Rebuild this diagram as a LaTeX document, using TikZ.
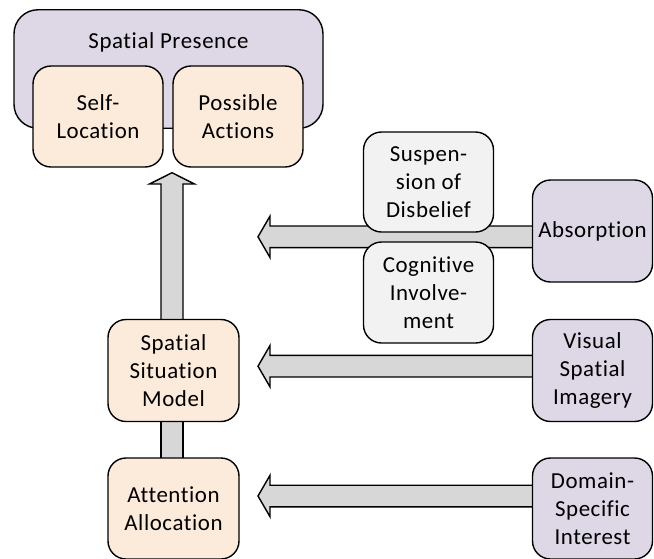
\documentclass[tikz,border=0pt]{standalone}
\usepackage{fontspec}
\setmainfont{Carlito}[Ligatures=NoCommon, LetterSpace=2.5]
\usetikzlibrary{calc}

\definecolor{lavender}{RGB}{221,215,230}
\definecolor{peach}{RGB}{252,234,219}
\definecolor{paleGray}{RGB}{242,242,242}
\definecolor{shaftGray}{RGB}{215,215,215}

% broad left-pointing arrow: #1 = tip, #2 = point where the shaft starts
\newcommand{\fatleft}[2]{%
  \draw[fatarrow] (#1) -- ++(12,-20.7) -- ++(0,9.9)
    -- ($(#2)+(0,-10.8)$) -- ($(#2)+(0,10.8)$)
    -- ($(#1)+(12,10.8)$) -- ++(0,9.9) -- cycle;}

\begin{document}
\begin{tikzpicture}[x=1pt,y=-1pt,
  every node/.style={font=\fontsize{22.9}{27.9}\selectfont, align=center, inner sep=0pt},
  box/.style={draw=black, line width=1.4pt, rounded corners=18pt,
    minimum width=130pt, minimum height=101pt},
  outer/.style={box, fill=lavender},
  inner/.style={box, fill=peach},
  side/.style={box, fill=paleGray},
  fatarrow/.style={draw=black, line width=1.4pt, fill=shaftGray, line join=miter}]
\useasboundingbox (0,0) rectangle (654,558);

% tips of the broad arrows
\coordinate (upTip)  at (172,172.7);
\coordinate (absTip) at (258,236.8);
\coordinate (visTip) at (258,366.2);
\coordinate (domTip) at (258,496);

% box centres
\path (168.5,69) coordinate (spPos)
      (98,116.5) coordinate (slPos)
      (238,116.5) coordinate (paPos)
      (592.5,231) coordinate (absPos)
      (592.5,370.5) coordinate (visPos)
      (592.5,508.5) coordinate (domPos)
      (173.5,370.5) coordinate (ssmPos)
      (173.5,508.5) coordinate (aaPos);
\coordinate (absS) at (absTip -| absPos);
\coordinate (visS) at (visTip -| visPos);
\coordinate (domS) at (domTip -| domPos);
\coordinate (upS)  at (upTip |- ssmPos);
\coordinate (aaS)  at (upTip |- aaPos);

% --- arrows, drawn first so the boxes cover their shafts ---
\fatleft{absTip}{absS}
\fatleft{visTip}{visS}
\fatleft{domTip}{domS}

\draw[fatarrow] (upTip) -- ++(22.5,11.3) -- ++(-11.5,0)
  -- ($(upS)+(11,0)$) -- ($(upS)+(-11,0)$)
  -- ($(upTip)+(-11,11.3)$) -- ++(-11.5,0) -- cycle;
\draw[fatarrow] ($(upS)+(-11,0)$) rectangle ($(aaS)+(11,0)$);

% --- boxes ---
\node[outer, minimum width=309pt, minimum height=118.5pt, rounded corners=24pt] (sp) at (spPos) {};
\node[anchor=base] (spText) at ($(sp.north)+(0,39.8)$) {Spatial Presence};
\node[inner] (sl) at (slPos) {Self-\\Location};
\node[inner] (pa) at (paPos) {Possible\\Actions};

\node[side, minimum height=100pt] (sus) at (428.5,182) {Suspen-\\sion of\\Disbelief};
\node[side] (cog) at (428.5,292.5) {Cognitive\\Involve-\\ment};

\node[outer, minimum width=120pt, minimum height=102pt] (abs) at (absPos) {Absorption};
\node[outer, minimum width=120pt, minimum height=102pt] (vis) at (visPos) {Visual\\Spatial\\Imagery};
\node[outer, minimum width=120pt, minimum height=101pt] (dom) at (domPos) {Domain-\\Specific\\Interest};

\node[inner, minimum width=131pt, minimum height=102pt] (ssm) at (ssmPos) {Spatial\\Situation\\Model};
\node[inner, minimum width=131pt, minimum height=101pt] (aa) at (aaPos) {Attention\\Allocation};
\end{tikzpicture}
\end{document}
